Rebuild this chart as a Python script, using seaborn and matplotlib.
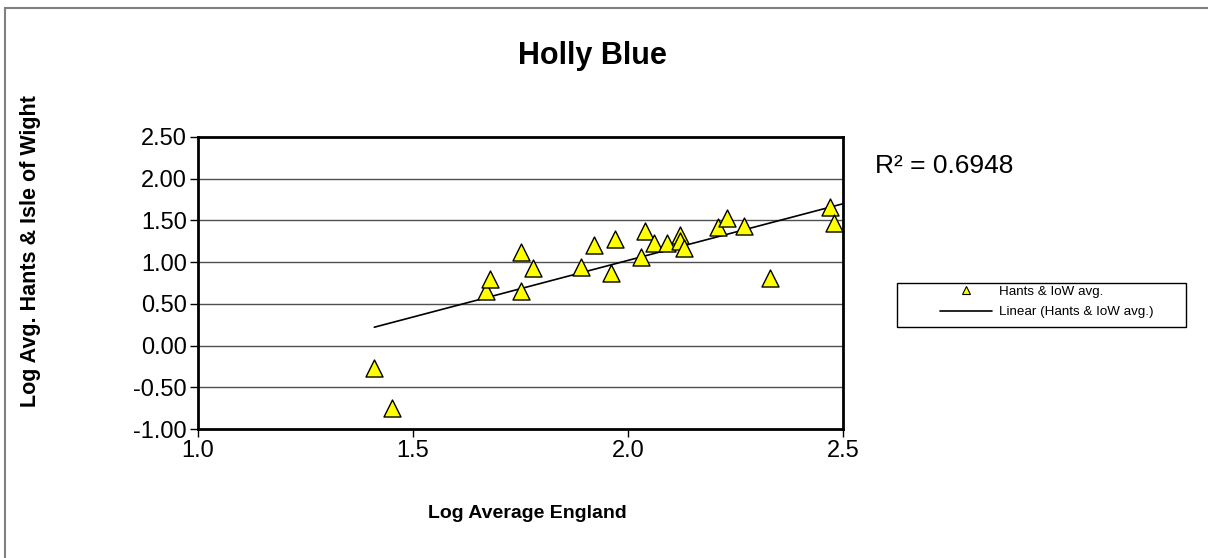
import matplotlib
matplotlib.use('Agg')
import matplotlib.pyplot as plt
from matplotlib.lines import Line2D
from matplotlib.patches import Rectangle
import numpy as np
import pandas as pd
import seaborn as sns

# Dados (log das medias)
log_england = [1.41, 1.45, 1.67, 1.68, 1.75, 1.75, 1.78, 1.89, 1.92, 1.96, 1.97, 2.03,
               2.04, 2.06, 2.09, 2.12, 2.12, 2.13, 2.21, 2.23, 2.27, 2.33, 2.47, 2.48]
log_hants = [-0.27, -0.75, 0.65, 0.80, 1.12, 0.66, 0.93, 0.94, 1.21, 0.87, 1.28, 1.06,
             1.37, 1.23, 1.23, 1.33, 1.25, 1.17, 1.42, 1.53, 1.43, 0.81, 1.66, 1.47]
# linha de tendencia (Excel), extremos
trend_x = [1.41, 2.50]
trend_y = [0.22, 1.70]
y_ticks = [-1.0, -0.5, 0.0, 0.5, 1.0, 1.5, 2.0, 2.5]
x_ticks = [1.0, 1.5, 2.0, 2.5]
r2_text = 'R² = 0.6948'
legend_labels = ['Hants & IoW avg.', 'Linear (Hants & IoW avg.)']

dados = pd.DataFrame({'england': log_england, 'hants': log_hants})
tendencia = pd.DataFrame({'x': trend_x, 'y': trend_y})

sns.set_style('white')
plt.rcParams['font.family'] = ['Liberation Sans', 'DejaVu Sans']
plt.rcParams['text.color'] = 'black'
plt.rcParams['xtick.color'] = 'black'
plt.rcParams['ytick.color'] = 'black'

W, H = 1208, 558
fig = plt.figure(figsize=(W / 100, H / 100), dpi=100)

# borda da area do grafico
fig.patches.append(Rectangle((5 / W, -0.2), 1.2, 1.2 - 8 / H, transform=fig.transFigure,
                             fill=False, edgecolor='#808080', lw=1.5, zorder=0))

ax = fig.add_axes([198 / W, 1 - 429 / H, (843 - 198) / W, (429 - 137) / H])

# linhas de grade horizontais
for yv in y_ticks[1:-1]:
    ax.axhline(yv, color='#505050', lw=1, zorder=1)

# linha de tendencia
sns.lineplot(data=tendencia, x='x', y='y', ax=ax, color='black', lw=1.2, zorder=2)

# pontos
sns.scatterplot(data=dados, x='england', y='hants', ax=ax, marker='^', s=150,
                color='#FFFF00', edgecolor='black', linewidth=1, zorder=3, legend=False)

ax.set_xlim(1.0, 2.5)
ax.set_ylim(-1.0, 2.5)
ax.set_xticks(x_ticks)
ax.set_yticks(y_ticks)
ax.set_xticklabels(['%.1f' % v for v in x_ticks], fontsize=17)
ax.set_yticklabels(['%.2f' % v for v in y_ticks], fontsize=17)
ax.tick_params(axis='both', direction='out', length=6, width=1,
               left=True, bottom=True, pad=2)
ax.set_xlabel('')
ax.set_ylabel('')
for s in ax.spines.values():
    s.set_color('black')
    s.set_linewidth(2)

fig.text(592 / W, 1 - 56 / H, 'Holly Blue', fontsize=22, fontweight='bold',
         ha='center', va='center')
fig.text(527 / W, 1 - 514 / H, 'Log Average England', fontsize=14, fontweight='bold',
         ha='center', va='center')
fig.text(31 / W, 1 - 251 / H, 'Log Avg. Hants & Isle of Wight', fontsize=15.5,
         fontweight='bold', ha='center', va='center', rotation=90)
fig.text(875 / W, 1 - 166 / H, r2_text, fontsize=19, ha='left', va='center')

# legenda: caixa desenhada a parte
fig.patches.append(Rectangle((897 / W, 1 - 327 / H), (1186 - 897) / W, 44 / H,
                             transform=fig.transFigure, fill=False,
                             edgecolor='black', lw=1, zorder=4))
handles = [Line2D([], [], marker='^', ls='none', markersize=5.5, markerfacecolor='#FFFF00',
                  markeredgecolor='black', markeredgewidth=0.8),
           Line2D([], [], color='black', lw=1.2)]
leg = fig.legend(handles, legend_labels, loc='center left',
                 bbox_to_anchor=(940 / W, 1 - 302 / H), borderpad=0, borderaxespad=0,
                 fontsize=9.6, frameon=False, handlelength=3.9, labelspacing=0.6,
                 handletextpad=0.5)

fig.savefig('out.png', dpi=100)
